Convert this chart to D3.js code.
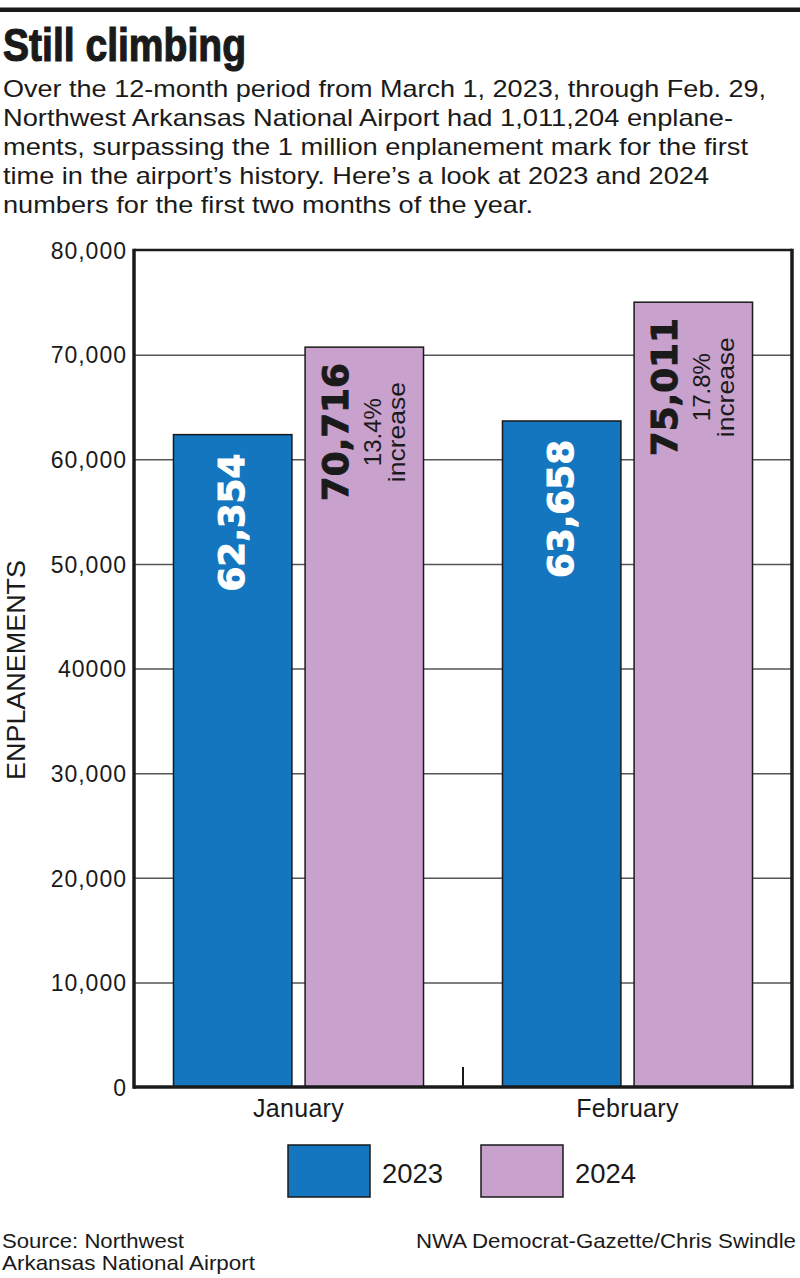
<!DOCTYPE html>
<html>
<head>
<meta charset="utf-8">
<script src="https://cdn.jsdelivr.net/npm/d3@7"></script>
<style>
  html, body { margin: 0; padding: 0; background: #fff; }
  svg { display: block; }
  .narrow { font-family: "Liberation Sans Narrow", "Arial Narrow", "Liberation Sans", Arial, sans-serif; font-stretch: condensed; }
  .sans { font-family: "Liberation Sans", Arial, Helvetica, sans-serif; }
</style>
</head>
<body>
<script>
// ---- data ----
const months = ["January", "February"];
const years = ["2023", "2024"];
const values2023 = [62354, 63658];
const values2024 = [70716, 75011];
const valueLabels2023 = ["62,354", "63,658"];
const valueLabels2024 = ["70,716", "75,011"];
const pctIncrease = ["13.4%", "17.8%"];
const yTicks = [0, 10000, 20000, 30000, 40000, 50000, 60000, 70000, 80000];
const yTickLabels = ["0", "10,000", "20,000", "30,000", "40000", "50,000", "60,000", "70,000", "80,000"];
const colors = { "2023": "#1376BF", "2024": "#C8A1CD" };

const title = "Still climbing";
const introLines = [
  ["Over the 12-month period from March 1, 2023, through Feb. 29,", 763],
  ["Northwest Arkansas National Airport had 1,011,204 enplane-", 730],
  ["ments, surpassing the 1 million enplanement mark for the first", 745],
  ["time in the airport\u2019s history. Here\u2019s a look at 2023 and 2024", 706],
  ["numbers for the first two months of the year.", 530]
];
const yTitle = "ENPLANEMENTS";
const sourceLines = ["Source: Northwest", "Arkansas National Airport"];
const credit = "NWA Democrat-Gazette/Chris Swindle";

// ---- layout ----
const W = 800, H = 1278;
const plot = { left: 134, right: 792, top: 250, bottom: 1087 };

const svg = d3.select("body").append("svg").attr("width", W).attr("height", H);

// top rule
svg.append("rect").attr("x", 0).attr("y", 7.5).attr("width", W).attr("height", 4.5).attr("fill", "#1a1a1a");

// title
svg.append("text").attr("class", "narrow").attr("x", 3).attr("y", 61)
  .attr("font-size", 46).attr("font-weight", 700).attr("fill", "#1a1a1a")
  .attr("stroke", "#1a1a1a").attr("stroke-width", 1.2)
  .attr("textLength", 243).attr("lengthAdjust", "spacingAndGlyphs")
  .text(title);

// intro
svg.append("g").selectAll("text").data(introLines).join("text")
  .attr("class", "narrow").attr("x", 3).attr("y", (d, i) => 97 + i * 29)
  .attr("font-size", 24).attr("fill", "#1a1a1a")
  .attr("textLength", d => d[1]).attr("lengthAdjust", "spacingAndGlyphs")
  .text(d => d[0]);

// scales
const y = d3.scaleLinear().domain([0, 80000]).range([plot.bottom, plot.top]);
const x0 = d3.scaleBand().domain(months).range([plot.left, plot.right]).paddingInner(0.24).paddingOuter(0.12);
const x1 = d3.scaleBand().domain(years).range([0, x0.bandwidth()]).paddingInner(0.1);

// gridlines
const grid = svg.append("g").attr("transform", `translate(${plot.left},0)`)
  .call(d3.axisLeft(y).tickValues(yTicks.slice(1, -1)).tickSize(-(plot.right - plot.left)).tickFormat(""));
grid.select(".domain").remove();
grid.selectAll("line").attr("stroke", "#555").attr("stroke-width", 1.5);

// y tick labels
const yAxis = svg.append("g").attr("transform", `translate(${plot.left - 8},0)`)
  .call(d3.axisLeft(y).tickValues(yTicks).tickSize(0).tickPadding(0)
    .tickFormat((d, i) => yTickLabels[i]));
yAxis.select(".domain").remove();
yAxis.selectAll("text").attr("class", "sans").attr("font-size", 23).attr("fill", "#1a1a1a")
  .attr("font-family", "Liberation Sans, Arial, sans-serif").attr("letter-spacing", "1px")
  .attr("dx", "1px").attr("dy", "0.36em");

// bars
const rows = months.map((m, i) => ({
  month: m,
  bars: [
    { year: "2023", value: values2023[i], label: valueLabels2023[i] },
    { year: "2024", value: values2024[i], label: valueLabels2024[i], pct: pctIncrease[i] }
  ]
}));

const groups = svg.append("g").selectAll("g").data(rows).join("g")
  .attr("transform", d => `translate(${x0(d.month)},0)`);

groups.selectAll("rect").data(d => d.bars).join("rect")
  .attr("x", d => x1(d.year)).attr("y", d => y(d.value))
  .attr("width", x1.bandwidth()).attr("height", d => y(0) - y(d.value))
  .attr("fill", d => colors[d.year]).attr("stroke", "#1a1a1a").attr("stroke-width", 1.5);

// value labels
groups.each(function(d) {
  const g = d3.select(this);
  const b0 = d.bars[0];
  const cx0 = x1(b0.year) + x1.bandwidth() / 2;
  const top0 = y(b0.value) + 19;
  g.append("text").attr("transform", `translate(${cx0 - 1},${top0}) rotate(-90)`)
    .attr("text-anchor", "end").attr("dy", "0.36em")
    .attr("font-family", "DejaVu Sans, sans-serif").attr("font-weight", 700)
    .attr("font-size", 35).attr("fill", "#fff").attr("stroke", "#fff").attr("stroke-width", 1)
    .attr("textLength", 138).attr("lengthAdjust", "spacingAndGlyphs")
    .text(b0.label);

  const b1 = d.bars[1];
  const cx1 = x1(b1.year) + x1.bandwidth() / 2;
  const cy1 = y(b1.value) + 85;
  g.append("text").attr("transform", `translate(${cx1 - 29},${cy1}) rotate(-90)`)
    .attr("text-anchor", "middle").attr("dy", "0.36em")
    .attr("font-family", "DejaVu Sans, sans-serif").attr("font-weight", 700)
    .attr("font-size", 35).attr("fill", "#1a1a1a").attr("stroke", "#1a1a1a").attr("stroke-width", 1)
    .attr("textLength", 138).attr("lengthAdjust", "spacingAndGlyphs")
    .text(b1.label);
  g.append("text").attr("transform", `translate(${cx1 + 8},${cy1}) rotate(-90)`)
    .attr("text-anchor", "middle").attr("dy", "0.36em")
    .attr("font-family", "Liberation Sans, Arial, sans-serif")
    .attr("font-size", 24).attr("fill", "#1a1a1a")
    .attr("textLength", 68).attr("lengthAdjust", "spacingAndGlyphs")
    .text(b1.pct);
  g.append("text").attr("transform", `translate(${cx1 + 34},${cy1}) rotate(-90)`)
    .attr("text-anchor", "middle").attr("dy", "0.28em")
    .attr("font-family", "Liberation Sans, Arial, sans-serif")
    .attr("font-size", 24).attr("fill", "#1a1a1a")
    .attr("textLength", 100).attr("lengthAdjust", "spacingAndGlyphs")
    .text("increase");
});

// frame: top and right
svg.append("line").attr("x1", plot.left).attr("x2", plot.right).attr("y1", plot.top).attr("y2", plot.top)
  .attr("stroke", "#1a1a1a").attr("stroke-width", 2.5);
svg.append("line").attr("x1", plot.right).attr("x2", plot.right).attr("y1", plot.top - 1.25).attr("y2", plot.bottom)
  .attr("stroke", "#1a1a1a").attr("stroke-width", 3.5);
// left axis
svg.append("line").attr("x1", plot.left).attr("x2", plot.left).attr("y1", plot.top - 1.25).attr("y2", plot.bottom + 1.75)
  .attr("stroke", "#1a1a1a").attr("stroke-width", 3.5);

// x axis
const xAxis = svg.append("g").attr("transform", `translate(0,${plot.bottom})`)
  .call(d3.axisBottom(x0).tickSize(0).tickPadding(0));
xAxis.select(".domain").remove();
xAxis.selectAll("text").attr("font-family", "Liberation Sans, Arial, sans-serif")
  .attr("font-size", 25).attr("fill", "#1a1a1a").attr("dy", "30px").attr("letter-spacing", "0.3px");
svg.append("line").attr("x1", plot.left).attr("x2", plot.right + 1.75).attr("y1", plot.bottom).attr("y2", plot.bottom)
  .attr("stroke", "#1a1a1a").attr("stroke-width", 3.5);
// middle separator tick
const midX = (x0(months[0]) + x0.bandwidth() + x0(months[1])) / 2;
svg.append("line").attr("x1", midX).attr("x2", midX).attr("y1", plot.bottom - 20).attr("y2", plot.bottom)
  .attr("stroke", "#1a1a1a").attr("stroke-width", 2);

// y title
svg.append("text").attr("transform", `translate(25,670) rotate(-90)`)
  .attr("text-anchor", "middle").attr("font-family", "Liberation Sans, Arial, sans-serif")
  .attr("font-size", 25).attr("fill", "#1a1a1a")
  .attr("textLength", 220).attr("lengthAdjust", "spacingAndGlyphs")
  .text(yTitle);

// legend
const legendX = [288, 481];
const legend = svg.append("g").selectAll("g").data(years).join("g")
  .attr("transform", (d, i) => `translate(${legendX[i]},1145)`);
legend.append("rect").attr("width", 82).attr("height", 52)
  .attr("fill", d => colors[d]).attr("stroke", "#1a1a1a").attr("stroke-width", 1.5);
legend.append("text").attr("x", 94).attr("y", 38)
  .attr("font-family", "Liberation Sans, Arial, sans-serif").attr("font-size", 28).attr("fill", "#1a1a1a")
  .attr("textLength", 61).attr("lengthAdjust", "spacingAndGlyphs")
  .text(d => d);

// footer
svg.append("g").selectAll("text").data(sourceLines).join("text")
  .attr("class", "narrow").attr("x", 2).attr("y", (d, i) => 1248 + i * 22)
  .attr("font-size", 21).attr("fill", "#1a1a1a")
  .attr("textLength", (d, i) => i === 0 ? 182 : 253).attr("lengthAdjust", "spacingAndGlyphs")
  .text(d => d);
svg.append("text").attr("class", "narrow").attr("x", 796).attr("y", 1248)
  .attr("text-anchor", "end").attr("font-size", 21).attr("fill", "#1a1a1a")
  .attr("textLength", 380).attr("lengthAdjust", "spacingAndGlyphs")
  .text(credit);
</script>
</body>
</html>
